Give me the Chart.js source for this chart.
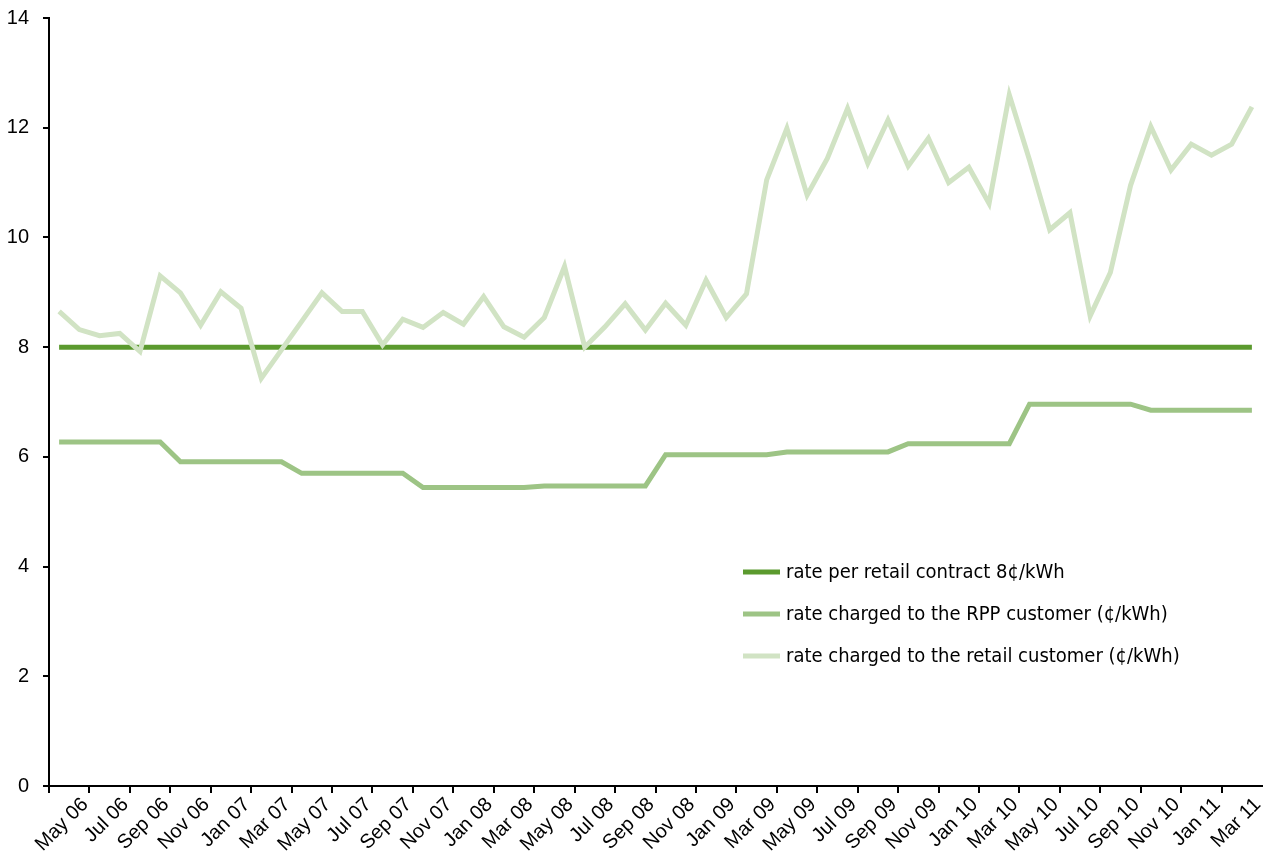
<!DOCTYPE html>
<html>
<head>
<meta charset="utf-8">
<script src="https://cdn.jsdelivr.net/npm/chart.js@4.4.0/dist/chart.umd.min.js"></script>
<style>
    html, body { margin: 0; padding: 0; background: #ffffff; }
    #wrap { width: 1264px; height: 863px; }
</style>
</head>
<body>
<div id="wrap"><canvas id="rateChart" width="1264" height="863"></canvas></div>
<script>
const months = [
    "May 06", "Jun 06", "Jul 06", "Aug 06", "Sep 06", "Oct 06", "Nov 06", "Dec 06",
    "Jan 07", "Feb 07", "Mar 07", "Apr 07", "May 07", "Jun 07", "Jul 07", "Aug 07", "Sep 07", "Oct 07", "Nov 07", "Dec 07",
    "Jan 08", "Feb 08", "Mar 08", "Apr 08", "May 08", "Jun 08", "Jul 08", "Aug 08", "Sep 08", "Oct 08", "Nov 08", "Dec 08",
    "Jan 09", "Feb 09", "Mar 09", "Apr 09", "May 09", "Jun 09", "Jul 09", "Aug 09", "Sep 09", "Oct 09", "Nov 09", "Dec 09",
    "Jan 10", "Feb 10", "Mar 10", "Apr 10", "May 10", "Jun 10", "Jul 10", "Aug 10", "Sep 10", "Oct 10", "Nov 10", "Dec 10",
    "Jan 11", "Feb 11", "Mar 11", "Apr 11"
];

// rate per retail contract (cents/kWh)
const contractRate = [
    8, 8, 8, 8, 8, 8, 8, 8, 8, 8, 8, 8, 8, 8, 8, 8, 8, 8, 8, 8,
    8, 8, 8, 8, 8, 8, 8, 8, 8, 8, 8, 8, 8, 8, 8, 8, 8, 8, 8, 8,
    8, 8, 8, 8, 8, 8, 8, 8, 8, 8, 8, 8, 8, 8, 8, 8, 8, 8, 8, 8
];

// RPP rate (cents/kWh)
const rppRate = [
    6.27, 6.27, 6.27, 6.27, 6.27, 6.27, 5.91, 5.91, 5.91, 5.91, 5.91, 5.91,
    5.70, 5.70, 5.70, 5.70, 5.70, 5.70, 5.44, 5.44, 5.44, 5.44, 5.44, 5.44,
    5.47, 5.47, 5.47, 5.47, 5.47, 5.47, 6.04, 6.04, 6.04, 6.04, 6.04, 6.04,
    6.09, 6.09, 6.09, 6.09, 6.09, 6.09, 6.24, 6.24, 6.24, 6.24, 6.24, 6.24,
    6.96, 6.96, 6.96, 6.96, 6.96, 6.96, 6.85, 6.85, 6.85, 6.85, 6.85, 6.85
];

// retail customer rate (cents/kWh)
const retailRate = [
    8.65, 8.32, 8.21, 8.25, 7.92, 9.30, 8.99, 8.40, 9.01, 8.71,
    7.43, 7.95, 8.47, 8.99, 8.65, 8.65, 8.04, 8.51, 8.36, 8.63,
    8.42, 8.92, 8.37, 8.18, 8.54, 9.47, 8.00, 8.37, 8.79, 8.31,
    8.80, 8.40, 9.22, 8.54, 8.97, 11.05, 11.99, 10.77, 11.44, 12.35,
    11.35, 12.14, 11.30, 11.81, 11.00, 11.28, 10.62, 12.60, 11.41, 10.14,
    10.45, 8.57, 9.36, 10.95, 12.02, 11.23, 11.70, 11.50, 11.70, 12.38
];

const yTicks = [0, 2, 4, 6, 8, 10, 12, 14];

const seriesNames = [
    "rate per retail contract 8\u00a2/kWh",
    "rate charged to the RPP customer (\u00a2/kWh)",
    "rate charged to the retail customer (\u00a2/kWh)"
];

const axisFont = '"Liberation Sans", Arial, sans-serif';
const legendFont = '"Liberation Sans Narrow", "DejaVu Sans Condensed", sans-serif';

// legend sits inside the plot, bottom right
const insideLegend = {
    id: 'insideLegend',
    afterDraw(chart) {
        const ctx = chart.ctx;
        ctx.save();
        ctx.font = '20px ' + legendFont;
        ctx.textBaseline = 'middle';
        ctx.fillStyle = '#000000';
        chart.data.datasets.forEach((ds, i) => {
            const y = 572 + i * 42;
            ctx.strokeStyle = ds.borderColor;
            ctx.lineWidth = 5;
            ctx.beginPath();
            ctx.moveTo(743, y);
            ctx.lineTo(780, y);
            ctx.stroke();
            ctx.fillText(ds.label, 786, y + 1);
        });
        ctx.restore();
    }
};

const ctx = document.getElementById('rateChart').getContext('2d');

new Chart(ctx, {
    type: 'line',
    data: {
        labels: months,
        datasets: [
            {
                label: seriesNames[0],
                data: contractRate,
                borderColor: '#5b9a2e',
                borderWidth: 5,
                order: 2
            },
            {
                label: seriesNames[1],
                data: rppRate,
                borderColor: '#9dc485',
                borderWidth: 5,
                order: 1
            },
            {
                label: seriesNames[2],
                data: retailRate,
                borderColor: '#d1e3c4',
                borderWidth: 5,
                order: 0
            }
        ]
    },
    options: {
        responsive: false,
        animation: false,
        devicePixelRatio: 1,
        layout: {
            padding: { top: 18, right: 2, left: 0, bottom: 0 }
        },
        elements: {
            point: { radius: 0 },
            line: { tension: 0, fill: false }
        },
        plugins: {
            legend: { display: false },
            tooltip: { enabled: false }
        },
        scales: {
            x: {
                offset: true,
                grid: {
                    offset: true,
                    drawOnChartArea: false,
                    tickLength: 7,
                    lineWidth: 2,
                    color: (c) => (c.index % 2 === 0 ? '#000000' : 'rgba(0,0,0,0)')
                },
                border: { color: '#000000', width: 2 },
                ticks: {
                    autoSkip: false,
                    maxRotation: 45,
                    minRotation: 45,
                    color: '#000000',
                    padding: 0,
                    labelOffset: 26,
                    font: { family: axisFont, size: 20 },
                    callback: function (value, index) {
                        return index % 2 === 0 ? this.getLabelForValue(value) : '';
                    }
                },
                afterFit(scale) {
                    scale.height = 77;
                    scale.paddingLeft = 0;
                    scale.paddingRight = 0;
                }
            },
            y: {
                min: 0,
                max: 14,
                afterBuildTicks(scale) {
                    scale.ticks = yTicks.map(v => ({ value: v }));
                },
                grid: {
                    drawOnChartArea: false,
                    tickLength: 6,
                    lineWidth: 2,
                    color: '#000000'
                },
                border: { color: '#000000', width: 2 },
                ticks: {
                    color: '#000000',
                    padding: 14,
                    font: { family: axisFont, size: 20 }
                },
                afterFit(scale) {
                    scale.width = 49;
                    scale.paddingTop = 0;
                    scale.paddingBottom = 0;
                }
            }
        }
    },
    plugins: [insideLegend]
});
</script>
</body>
</html>
